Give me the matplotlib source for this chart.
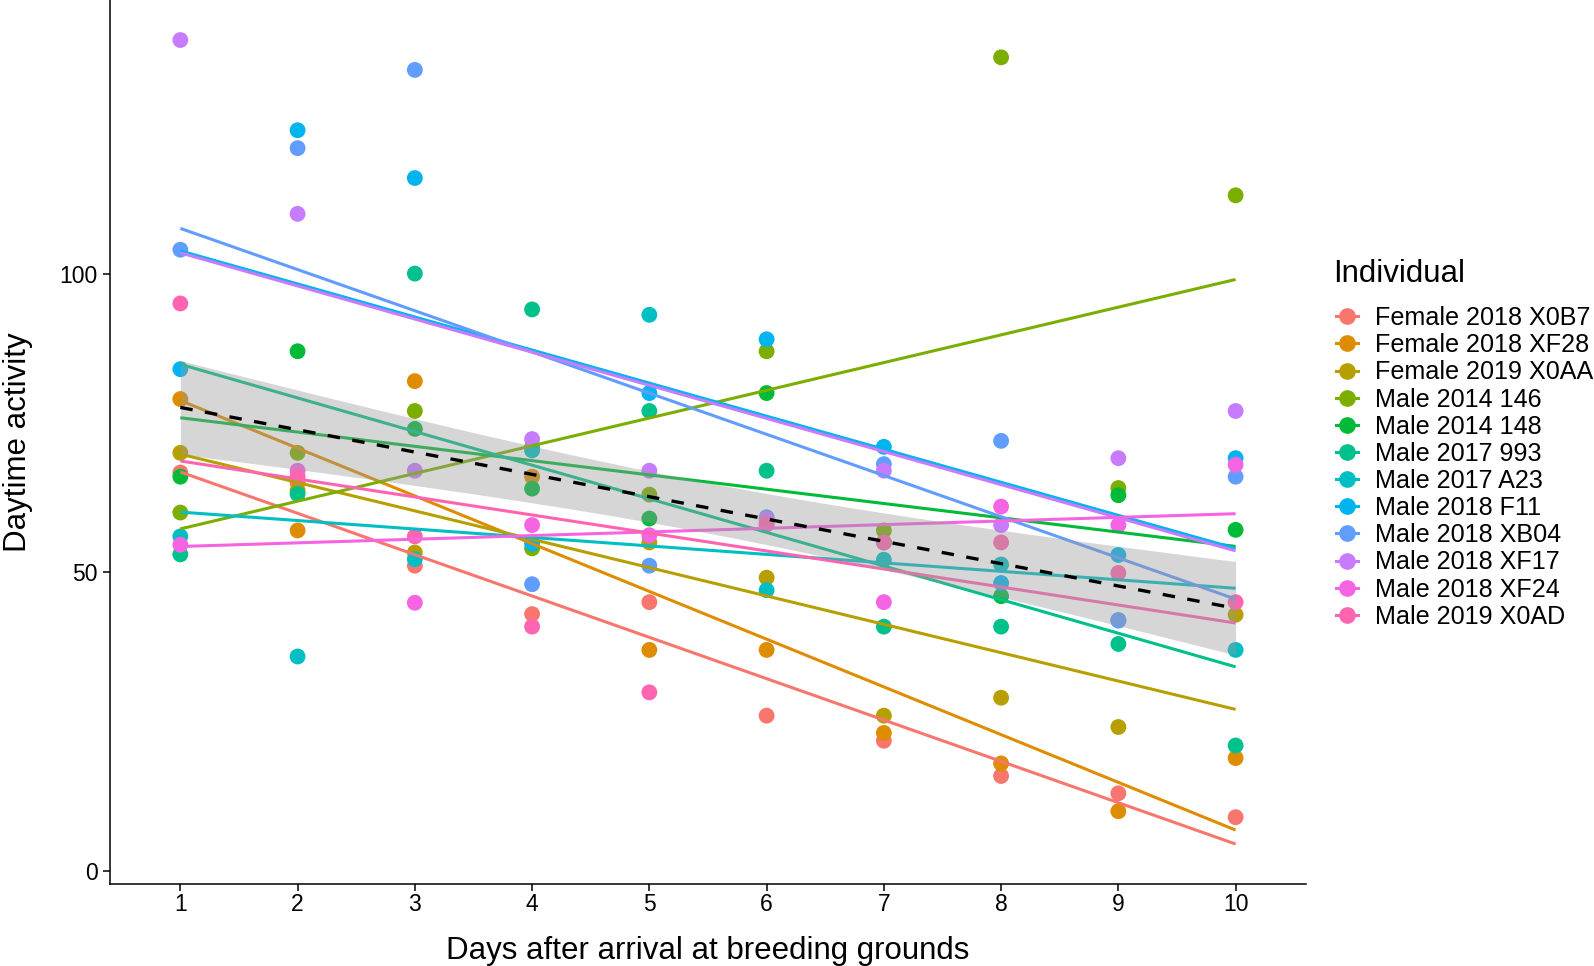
import matplotlib
matplotlib.use('Agg')
import matplotlib.pyplot as plt
from matplotlib.lines import Line2D
import numpy as np

plt.rcParams['font.family'] = ['Liberation Sans', 'DejaVu Sans']
plt.rcParams['lines.scale_dashes'] = False

# Daytime activity per individual, days 1..10 after arrival
days = np.arange(1, 11)
individuals = ['Female 2018 X0B7', 'Female 2018 XF28', 'Female 2019 X0AA',
               'Male 2014 146', 'Male 2014 148', 'Male 2017 993',
               'Male 2017 A23', 'Male 2018 F11', 'Male 2018 XB04',
               'Male 2018 XF17', 'Male 2018 XF24', 'Male 2019 X0AD']
x0b7 = [66.7, 65.0, 51.1, 43.0, 45.0, 26.0, 21.8, 15.9, 13.0, 9.0]
xf28 = [79.0, 57.0, 82.0, 66.0, 37.0, 37.0, 23.1, 18.0, 10.0, 18.9]
x0aa = [70.0, 63.7, 53.3, 71.0, 55.0, 49.1, 26.0, 29.0, 24.1, 42.9]
m146 = [60.0, 70.0, 77.0, 54.0, 63.0, 87.0, 57.0, 136.2, 64.1, 113.1]
m148 = [66.0, 87.0, 74.0, 64.0, 59.0, 80.0, 55.0, 46.0, 62.9, 57.1]
m993 = [53.0, 63.1, 100.0, 94.0, 77.0, 67.0, 40.9, 40.9, 38.0, 21.0]
a23 = [56.0, 35.9, 52.2, 70.4, 93.1, 47.0, 52.1, 51.3, 42.0, 37.0]
f11 = [84.0, 124.0, 116.0, 54.8, 80.0, 89.0, 71.0, 48.2, 52.9, 69.1]
xb04 = [104.0, 121.0, 134.1, 48.0, 51.1, 59.2, 68.1, 72.0, 41.9, 66.0]
xf17 = [139.1, 110.0, 67.0, 72.3, 67.0, 58.9, 67.0, 57.9, 69.1, 77.0]
xf24 = [54.6, 67.0, 44.9, 57.9, 56.2, 58.1, 45.0, 61.0, 57.9, 68.0]
x0ad = [95.0, 66.0, 56.0, 40.9, 29.9, 58.0, 55.0, 55.0, 49.9, 45.0]

activity = [x0b7, xf28, x0aa, m146, m148, m993, a23, f11, xb04, xf17, xf24, x0ad]

# ggplot hue palette, 12 levels
colors = ['#F8766D', '#DE8C00', '#B79F00', '#7CAE00', '#00BA38', '#00C08B',
          '#00BFC4', '#00B4F0', '#619CFF', '#C77CFF', '#F564E3', '#FF64B0']

fig = plt.figure(figsize=(15.94, 9.66), dpi=100)
ax = fig.add_axes([0.069, 0.0854, 0.7503, 0.9146])

# points
for y, c in zip(activity, colors):
    ax.scatter(days, y, s=130, color=c, edgecolors='none', zorder=2)

# per-individual linear fits
xs = np.array([1.0, 10.0])
for y, c in zip(activity, colors):
    b, a = np.polyfit(days, y, 1)
    ax.plot(xs, a + b * xs, color=c, lw=2.2, zorder=3, solid_capstyle='butt')

# pooled linear fit with 95% CI
xall = np.tile(days, len(activity)).astype(float)
yall = np.concatenate([np.asarray(v, float) for v in activity])
b, a = np.polyfit(xall, yall, 1)
resid = yall - (a + b * xall)
n = len(xall)
s = np.sqrt(np.sum(resid ** 2) / (n - 2))
xg = np.linspace(1, 10, 100)
se = s * np.sqrt(1 / n + (xg - xall.mean()) ** 2 / np.sum((xall - xall.mean()) ** 2))
fit = a + b * xg
ax.fill_between(xg, fit - 1.98 * se, fit + 1.98 * se, color='#999999', alpha=0.4,
                lw=0, zorder=4)
ax.plot(xg, fit, color='black', lw=2.4, linestyle=(0, (9, 9)), zorder=5)

ax.set_xlim(0.4, 10.6)
ax.set_ylim(-2.1, 145.8)
ax.set_xticks(days)
ax.set_yticks([0, 50, 100])
for sp in ['top', 'right']:
    ax.spines[sp].set_visible(False)
for sp in ['left', 'bottom']:
    ax.spines[sp].set_linewidth(1.1)
ax.tick_params(axis='both', length=5, width=1.1, labelsize=16.5, colors='black')
ax.tick_params(axis='x', pad=1.5)
ax.tick_params(axis='y', pad=4)
ax.set_xlabel('Days after arrival at breeding grounds', fontsize=22.5, labelpad=15)
ax.set_ylabel('Daytime activity', fontsize=22.5, labelpad=19)

# legend
fig.text(1333 / 1594, 1 - 274 / 966, 'Individual', fontsize=22.5, ha='left', va='center')
handles = [Line2D([0], [0], color=c, lw=2.2, marker='o', markersize=11) for c in colors]
leg = fig.legend(handles, individuals, loc='upper left', bbox_to_anchor=(0.8238, 0.7065),
                 frameon=False, fontsize=18.1, handlelength=0.87, handletextpad=0.7,
                 labelspacing=0.125)

plt.savefig('out.png', dpi=100)
plt.close()
